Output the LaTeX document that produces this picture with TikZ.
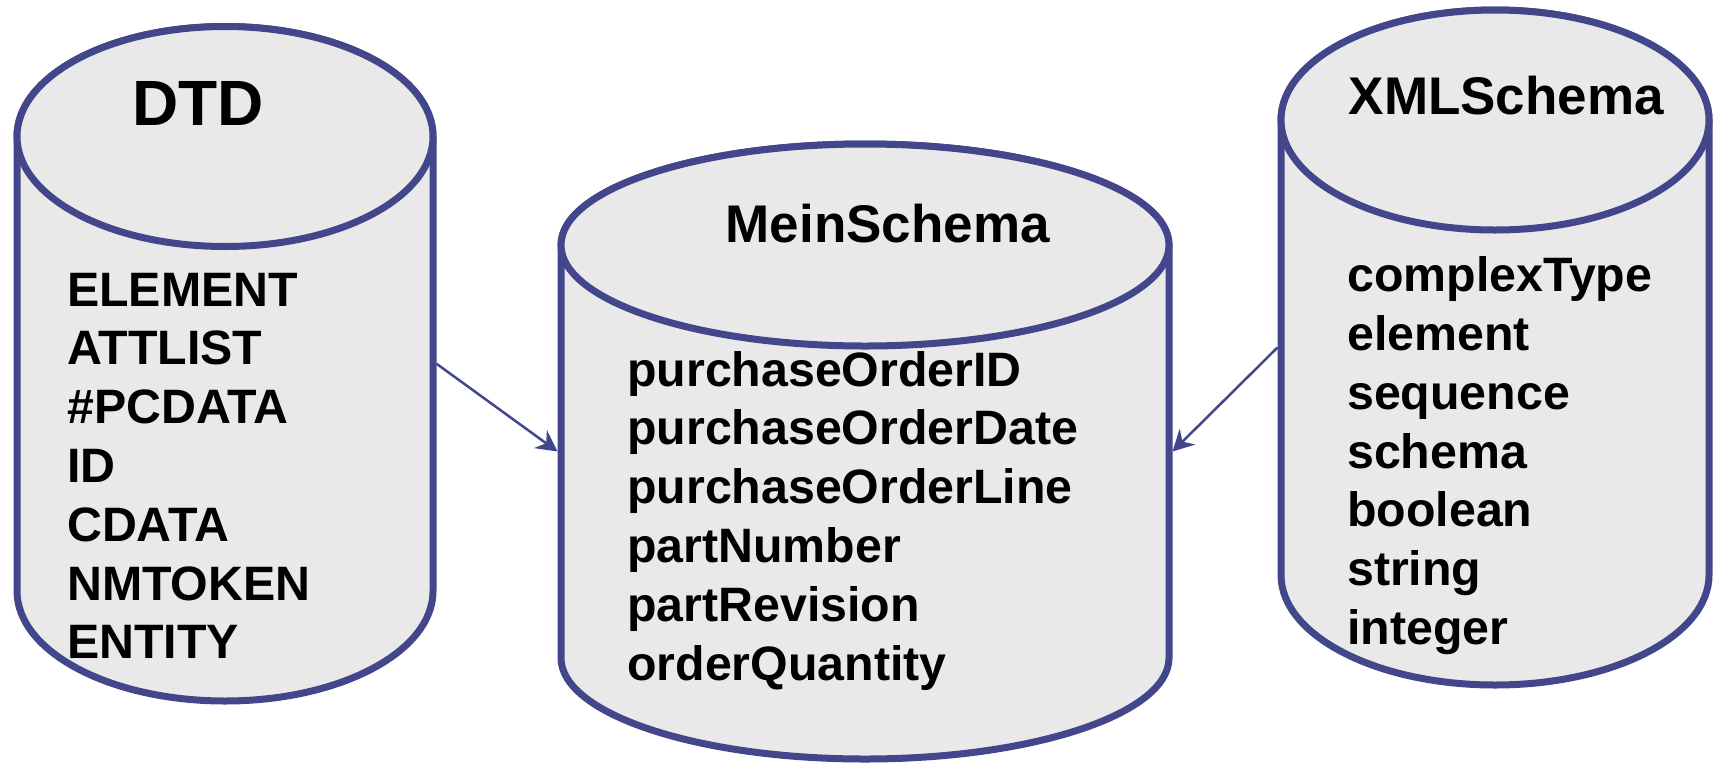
\documentclass[tikz,border=0pt]{standalone}
\usepackage{fontspec}
\setmainfont{Liberation Sans}
\usetikzlibrary{arrows.meta}

\definecolor{cylline}{RGB}{66,71,139}
\definecolor{cylfill}{RGB}{233,233,233}

% cylinder: centre x, top-ellipse y, bottom-ellipse y, x radius, y radius (pt, y downwards)
\newcommand{\drawcyl}[5]{%
  \path[cyl] ({#1-#4},{-#2}) -- ({#1-#4},{-#3})
    arc[start angle=180,end angle=360,x radius=#4pt,y radius=#5pt]
    -- ({#1+#4},{-#2})
    arc[start angle=0,end angle=180,x radius=#4pt,y radius=#5pt] -- cycle;
  \path[cyl] (#1,{-#2}) ellipse[x radius=#4pt,y radius=#5pt];
}

\tikzset{
  cyl/.style={draw=cylline,fill=cylfill,line width=7pt,line join=round},
  body/.style={draw=none,inner sep=0pt,outer sep=0pt,rectangle},
  title/.style={anchor=base west,inner sep=0pt,font=\bfseries\fontsize{53}{60}\selectfont},
  item/.style={anchor=base west,inner sep=0pt,font=\bfseries\fontsize{48.3}{58.8}\selectfont},
  conn/.style={draw=cylline,line width=2.5pt,-{Stealth[length=21pt,width=22pt,inset=7pt]}}
}

\begin{document}
\begin{tikzpicture}[x=1pt,y=1pt]
\fill[white] (0,0) rectangle (1713,-764);
\useasboundingbox (0,0) rectangle (1713,-764);

% the three stores
\drawcyl{225}{136.5}{591}{208}{110}
\drawcyl{865}{245}{658}{304}{101}
\drawcyl{1495}{120}{575}{214}{110}

% outer extents of the cylinder walls, used by the connectors
\node[body,minimum width=423pt,minimum height=454.5pt] (dtd) at (225,-363.75) {};
\node[body,minimum width=615pt,minimum height=413pt] (mein) at (865,-451.5) {};
\node[body,minimum width=435pt,minimum height=455pt] (xml) at (1495,-347.5) {};

% titles
\node[title,font=\bfseries\fontsize{64}{70}\selectfont] (dtdtitle) at (132,-125.5) {DTD};
\node[title] (meintitle) at (725.5,-242) {MeinSchema};
\node[title] (xmltitle) at (1348.5,-114) {XMLSchema};

% contents
\foreach \t [count=\i from 0] in {ELEMENT,ATTLIST,\#PCDATA,ID,CDATA,NMTOKEN,ENTITY}
  \node[item] (dtd\i) at (67,{-306-58.8*\i}) {\t};
\foreach \t [count=\i from 0] in {purchaseOrderID,purchaseOrderDate,purchaseOrderLine,partNumber,partRevision,orderQuantity}
  \node[item] (mein\i) at (627,{-386-58.8*\i}) {\t};
\foreach \t [count=\i from 0] in {complexType,element,sequence,schema,boolean,string,integer}
  \node[item] (xml\i) at (1347,{-291.6-58.8*\i}) {\t};

% connectors
\draw[conn] (dtd.east) -- (mein.west);
\draw[conn] (xml.west) -- (mein.east);
\end{tikzpicture}
\end{document}
